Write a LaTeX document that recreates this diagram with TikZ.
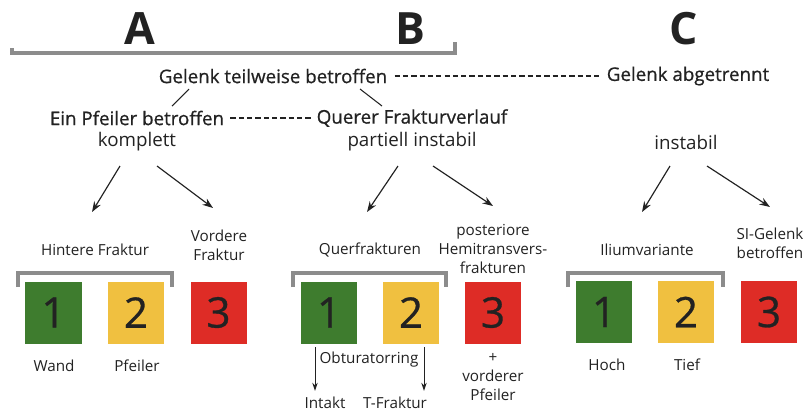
\documentclass[tikz,border=0pt]{standalone}
\usepackage{fontspec}
\setmainfont{Open Sans}
\newfontfamily\medfont[FakeBold=0.7]{Open Sans}
\usetikzlibrary{arrows.meta}
\definecolor{boxgreen}{RGB}{62,124,46}
\definecolor{boxyellow}{RGB}{240,192,64}
\definecolor{boxred}{RGB}{222,44,38}
\definecolor{ink}{RGB}{34,34,34}
\definecolor{brk}{RGB}{140,140,140}
\tikzset{
  bigletter/.style={font=\fontsize{38}{40}\selectfont\bfseries, text=ink, inner sep=0pt},
  toplab/.style={font=\fontsize{16}{18}\selectfont\medfont, text=ink, inner sep=1pt},
  midlab/.style={font=\fontsize{16}{18}\selectfont, text=ink, inner sep=1pt},
  sublab/.style={font=\fontsize{13}{16.2}\selectfont, text=ink, align=center, inner sep=1pt},
  numbox/.style={minimum width=1.68cm, minimum height=1.86cm, inner sep=0pt,
                 font=\fontsize{36}{38}\selectfont\medfont, text=ink},
  bracketline/.style={draw=brk, line width=3pt},
  dashline/.style={draw=ink, line width=1.2pt, dash pattern=on 4.5pt off 2.6pt},
  thinline/.style={draw=ink, line width=0.9pt},
  arrowline/.style={draw=ink, line width=1pt, -{Stealth[length=9pt,width=6.5pt]}},
  smallarrow/.style={draw=ink, line width=0.8pt, -{Stealth[length=7pt,width=4.5pt]}}
}
\begin{document}
\begin{tikzpicture}[x=0.03cm,y=-0.03cm]
\useasboundingbox (0,0) rectangle (808,412);

% big letters
\node[bigletter] (A) at (140,29) {A};
\node[bigletter] (B) at (410,29) {B};
\node[bigletter] (C) at (684,29) {C};

% top bracket
\draw[bracketline, line cap=butt] (12,48) -- (12,53) -- (455,53) -- (455,42);

% top level
\node[toplab] (gt) at (273,76) {Gelenk teilweise betroffen};
\node[toplab] (ga) at (688,76) {Gelenk abgetrennt};
\draw[dashline] (gt.east) ++(6,0) coordinate (d1s) -- (ga.west -| 599,0) coordinate (d1e);

\node[toplab] (epb) at (137,118) {Ein Pfeiler betroffen};
\node[toplab] (qfv) at (412,118) {Querer Frakturverlauf};
\draw[dashline] (epb.east) ++(5,0) coordinate (d2s) -- (313,118) coordinate (d2e);

\node[midlab] (kom) at (137,142) {komplett};
\node[midlab] (pin) at (412,142) {partiell instabil};
\node[midlab] (ins) at (686,142) {instabil};

% short lines from top
\coordinate (l1a) at (189,89); \coordinate (l1b) at (172,106);
\coordinate (l2a) at (360,89); \coordinate (l2b) at (382,106);
\draw[thinline] (l1a) -- (l1b);
\draw[thinline] (l2a) -- (l2b);

% arrows
\coordinate (a1s) at (120,166); \coordinate (a1e) at (92,212);
\coordinate (a2s) at (157,166); \coordinate (a2e) at (213,208);
\coordinate (b1s) at (398,166); \coordinate (b1e) at (367,212);
\coordinate (b2s) at (433,166); \coordinate (b2e) at (493,206);
\coordinate (c1s) at (670,166); \coordinate (c1e) at (642,212);
\coordinate (c2s) at (707,166); \coordinate (c2e) at (770,207);
\foreach \s/\e in {a1s/a1e,a2s/a2e,b1s/b1e,b2s/b2e,c1s/c1e,c2s/c2e}
  \draw[arrowline] (\s) -- (\e);

% group A
\node[sublab] (hf) at (95,250) {Hintere Fraktur};
\node[sublab] (vf) at (219,245) {Vordere\\Fraktur};
\draw[bracketline] (18,287) -- (18,273) -- (172,273) -- (172,287);
\node[numbox, fill=boxgreen]  (a1) at (53.5,312.5) {1};
\node[numbox, fill=boxyellow] (a2) at (136,312.5) {2};
\node[numbox, fill=boxred]    (a3) at (218.5,312.5) {3};
\node[sublab] (wand) at (54,366) {Wand};
\node[sublab] (pfa) at (137,366) {Pfeiler};

% group B
\node[sublab] (qf) at (370,250) {Querfrakturen};
\node[sublab] (ph) at (493,249) {posteriore\\Hemitransvers-\\frakturen};
\draw[bracketline] (293,287) -- (293,273) -- (446,273) -- (446,287);
\node[numbox, fill=boxgreen]  (b1) at (329,312.5) {1};
\node[numbox, fill=boxyellow] (b2) at (411,312.5) {2};
\node[numbox, fill=boxred]    (b3) at (493,312.5) {3};
\node[sublab] (obt) at (369,360) {Obturatorring};
\node[sublab] (int) at (325,403) {Intakt};
\node[sublab] (tfr) at (395,403) {T-Fraktur};
\coordinate (o1s) at (315,347); \coordinate (o1e) at (315,391);
\coordinate (o2s) at (424,347); \coordinate (o2e) at (424,391);
\draw[smallarrow] (o1s) -- (o1e);
\draw[smallarrow] (o2s) -- (o2e);
\node[sublab] (vp) at (493,377) {+\\vorderer\\Pfeiler};

% group C
\node[sublab] (il) at (647,250) {Iliumvariante};
\node[sublab] (si) at (770,243) {SI-Gelenk\\betroffen};
\draw[bracketline] (568,287) -- (568,273) -- (723,273) -- (723,287);
\node[numbox, fill=boxgreen]  (c1) at (604,312) {1};
\node[numbox, fill=boxyellow] (c2) at (686,312) {2};
\node[numbox, fill=boxred]    (c3) at (769,312) {3};
\node[sublab] (hoch) at (607,365) {Hoch};
\node[sublab] (tief) at (687,365) {Tief};
\end{tikzpicture}
\end{document}
